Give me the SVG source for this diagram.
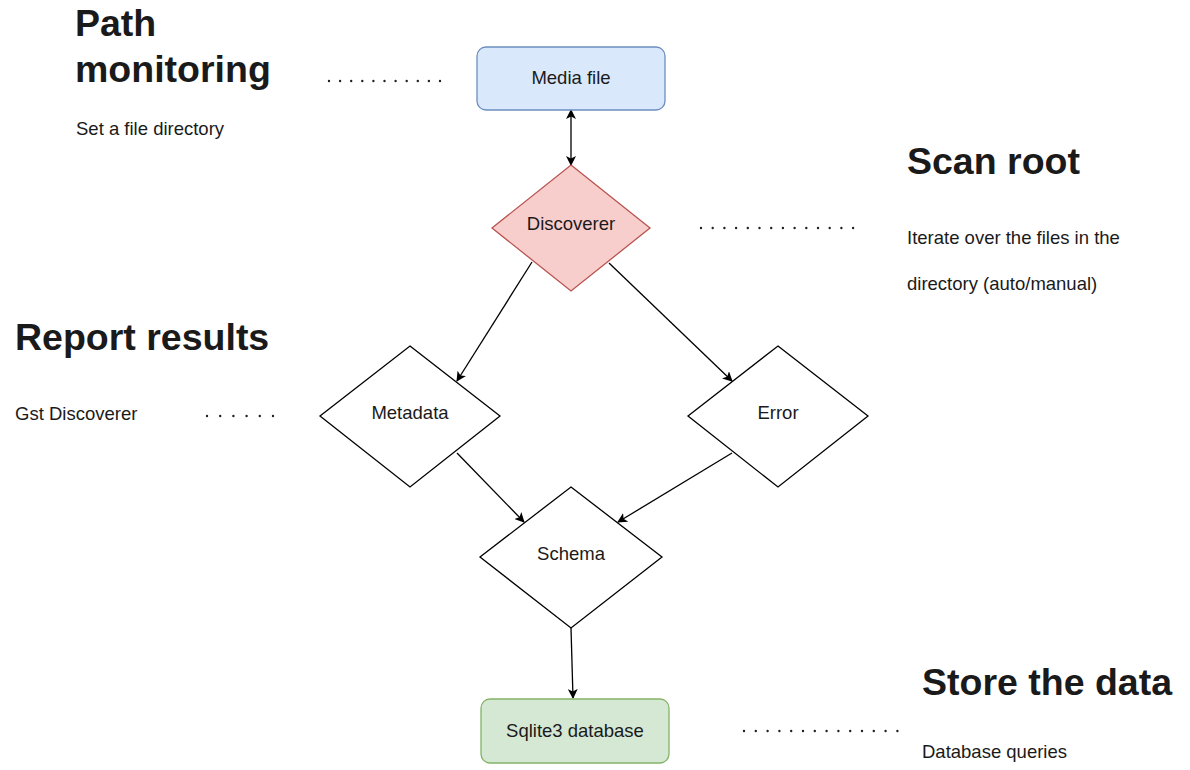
<svg xmlns="http://www.w3.org/2000/svg" width="1190" height="770" viewBox="0 0 1190 770">
<defs>
<marker id="arr" viewBox="0 0 10 10" refX="9" refY="5" markerWidth="10" markerHeight="10" markerUnits="userSpaceOnUse" orient="auto-start-reverse">
<path d="M0,0 L10,5 L0,10 L2.5,5 z" fill="#000"/>
</marker>
</defs>
<style>
.head{font-family:"Liberation Sans",Arial,sans-serif;font-weight:bold;font-size:37.5px;fill:#1a1a1a}
.txt{font-family:"Liberation Sans",Arial,sans-serif;font-size:18.5px;fill:#1a1a1a}
.lbl{font-family:"Liberation Sans",Arial,sans-serif;font-size:18.5px;fill:#1a1a1a;text-anchor:middle}
.dots{stroke:#222;stroke-width:2.4;stroke-linecap:round;fill:none}
.edge{stroke:#000;stroke-width:1.3;fill:none;marker-end:url(#arr)}
.plain{fill:#fff;stroke:#000;stroke-width:1.3}
</style>
<rect width="1190" height="770" fill="#fff"/>

<g id="annotations">
<text class="head" x="75" y="36">Path</text>
<text class="head" x="75" y="82">monitoring</text>
<text class="txt" x="76" y="135">Set a file directory</text>
<line class="dots" x1="329" y1="81" x2="443" y2="81" stroke-dasharray="0 11.1"/>

<text class="head" x="907" y="174">Scan root</text>
<text class="txt" x="907" y="244">Iterate over the files in the</text>
<text class="txt" x="907" y="290">directory (auto/manual)</text>
<line class="dots" x1="701" y1="228" x2="856" y2="228" stroke-dasharray="0 11.7"/>

<text class="head" x="15" y="350">Report results</text>
<text class="txt" x="15" y="420">Gst Discoverer</text>
<line class="dots" x1="207" y1="416" x2="275" y2="416" stroke-dasharray="0 13.2"/>

<text class="head" x="922" y="695">Store the data</text>
<text class="txt" x="922" y="758">Database queries</text>
<line class="dots" x1="744" y1="731" x2="898" y2="731" stroke-dasharray="0 11.8"/>
</g>

<g id="connectors">
<line class="edge" x1="571" y1="110" x2="571" y2="165" marker-start="url(#arr)"/>
<line class="edge" x1="532" y1="262" x2="457" y2="381"/>
<line class="edge" x1="609" y1="263" x2="732" y2="381"/>
<line class="edge" x1="457" y1="453" x2="524" y2="522"/>
<line class="edge" x1="732" y1="453" x2="618" y2="522"/>
<line class="edge" x1="571" y1="628" x2="573" y2="698"/>
</g>

<g id="media-file">
<rect x="477" y="47" width="188" height="63" rx="9" fill="#dae8fc" stroke="#6c8ebf" stroke-width="1.3"/>
<text class="lbl" x="571" y="84">Media file</text>
</g>

<g id="discoverer">
<polygon points="571,165 650,228 571,291 492,228" fill="#f8cecc" stroke="#b85450" stroke-width="1.3"/>
<text class="lbl" x="571" y="230">Discoverer</text>
</g>

<g id="metadata">
<polygon class="plain" points="410,346 500,416 410,487 320,416"/>
<text class="lbl" x="410" y="419">Metadata</text>
</g>

<g id="error">
<polygon class="plain" points="778,346 868,416 778,487 688,416"/>
<text class="lbl" x="778" y="419">Error</text>
</g>

<g id="schema">
<polygon class="plain" points="571,487 662,557 571,628 480,557"/>
<text class="lbl" x="571" y="560">Schema</text>
</g>

<g id="sqlite3-database">
<rect x="481" y="699" width="188" height="64" rx="9" fill="#d5e8d4" stroke="#82b366" stroke-width="1.3"/>
<text class="lbl" x="575" y="737">Sqlite3 database</text>
</g>
</svg>
